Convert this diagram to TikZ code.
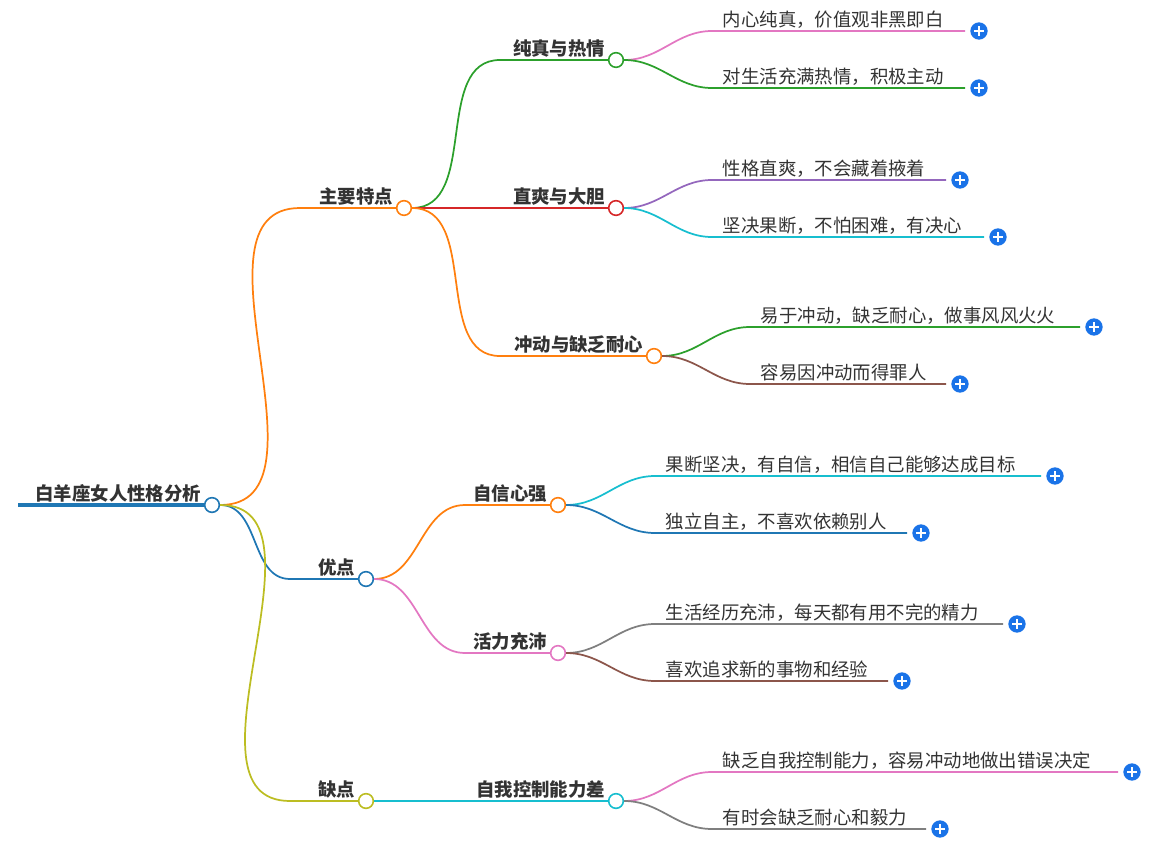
\documentclass[tikz,border=0pt]{standalone}
\usepackage{fontspec}
\newfontfamily\cjk{Noto Sans CJK SC}
\definecolor{corange}{HTML}{FF7F0E}
\definecolor{cgreen}{HTML}{2CA02C}
\definecolor{cred}{HTML}{D62728}
\definecolor{cpurple}{HTML}{9467BD}
\definecolor{ccyan}{HTML}{17BECF}
\definecolor{cbrown}{HTML}{8C564B}
\definecolor{cpink}{HTML}{E377C2}
\definecolor{cgray}{HTML}{7F7F7F}
\definecolor{cblue}{HTML}{1F77B4}
\definecolor{colive}{HTML}{BCBD22}
\definecolor{cplus}{HTML}{1A73E8}
\definecolor{ctext}{HTML}{333333}
\tikzset{
  knob/.style={circle,draw=#1,fill=white,line width=1.2pt,minimum size=11pt,inner sep=0pt},
  plusnode/.style={circle,fill=cplus,minimum size=13pt,inner sep=0pt,
    path picture={\draw[white,line width=1.3pt] ([xshift=-3.5pt]path picture bounding box.center)--([xshift=3.5pt]path picture bounding box.center)
    ([yshift=-3.5pt]path picture bounding box.center)--([yshift=3.5pt]path picture bounding box.center);}},
  leaftext/.style={font=\cjk\fontsize{13.8}{16}\selectfont,text=ctext,inner sep=2pt,anchor=south west},
  boldtext/.style={font=\cjk\bfseries\fontsize{13.8}{16}\selectfont,text=ctext,inner sep=2pt,anchor=south east},
  conn/.style={line width=1.3pt}
}
\newcommand{\leafnode}[7]{%
  \coordinate (#1-s) at (#4,#6);
  \coordinate (#1-e) at (#5,#6);
  \node[plusnode] (#1-p) at ({#5+14},#6) {};
  \node[leaftext] (#1-t) at ({#4+8},#6) {#7};
  \draw[conn,#3] (#2.east) to[out=0,in=180] (#1-s) -- (#1-e);
}
\newcommand{\midnode}[7]{%
  \coordinate (#1-s) at (#4,#6);
  \node[knob=#3] (#1) at (#5,#6) {};
  \node[boldtext] (#1-t) at ({#5-8},#6) {#7};
  \draw[conn,#3] (#2.east) to[out=0,in=180] (#1-s) -- (#1.west);
}
\begin{document}
\begin{tikzpicture}[x=0.75pt,y=-0.75pt]
\useasboundingbox (0,0) rectangle (1150,853);
\node[knob=cblue] (root) at (212,505) {};
\coordinate (root-s) at (18,505);
\draw[cblue,line width=3pt] (root-s) -- (root.west);
\node[boldtext] (root-t) at (204,505) {白羊座女人性格分析};

\midnode{a}{root}{corange}{300}{404}{208}{主要特点}
\midnode{b}{root}{cblue}{290}{366}{579}{优点}
\midnode{c}{root}{colive}{290}{366}{801}{缺点}

\midnode{a1}{a}{cgreen}{500}{616}{60}{纯真与热情}
\midnode{a2}{a}{cred}{500}{616}{208}{直爽与大胆}
\midnode{a3}{a}{corange}{500}{654}{356}{冲动与缺乏耐心}
\midnode{b1}{b}{corange}{465}{558}{505}{自信心强}
\midnode{b2}{b}{cpink}{465}{558}{653}{活力充沛}
\midnode{c1}{c}{ccyan}{465}{616}{801}{自我控制能力差}

\leafnode{l1}{a1}{cpink}{712}{965}{31}{内心纯真，价值观非黑即白}
\leafnode{l2}{a1}{cgreen}{712}{965}{88}{对生活充满热情，积极主动}
\leafnode{l3}{a2}{cpurple}{712}{946}{180}{性格直爽，不会藏着掖着}
\leafnode{l4}{a2}{ccyan}{712}{984}{237}{坚决果断，不怕困难，有决心}
\leafnode{l5}{a3}{cgreen}{750}{1080}{327}{易于冲动，缺乏耐心，做事风风火火}
\leafnode{l6}{a3}{cbrown}{750}{946}{384}{容易因冲动而得罪人}
\leafnode{l7}{b1}{ccyan}{655}{1041}{476}{果断坚决，有自信，相信自己能够达成目标}
\leafnode{l8}{b1}{cblue}{655}{907}{533}{独立自主，不喜欢依赖别人}
\leafnode{l9}{b2}{cgray}{655}{1003}{624}{生活经历充沛，每天都有用不完的精力}
\leafnode{l10}{b2}{cbrown}{655}{888}{681}{喜欢追求新的事物和经验}
\leafnode{l11}{c1}{cpink}{712}{1118}{772}{缺乏自我控制能力，容易冲动地做出错误决定}
\leafnode{l12}{c1}{cgray}{712}{926}{829}{有时会缺乏耐心和毅力}
\end{tikzpicture}
\end{document}
